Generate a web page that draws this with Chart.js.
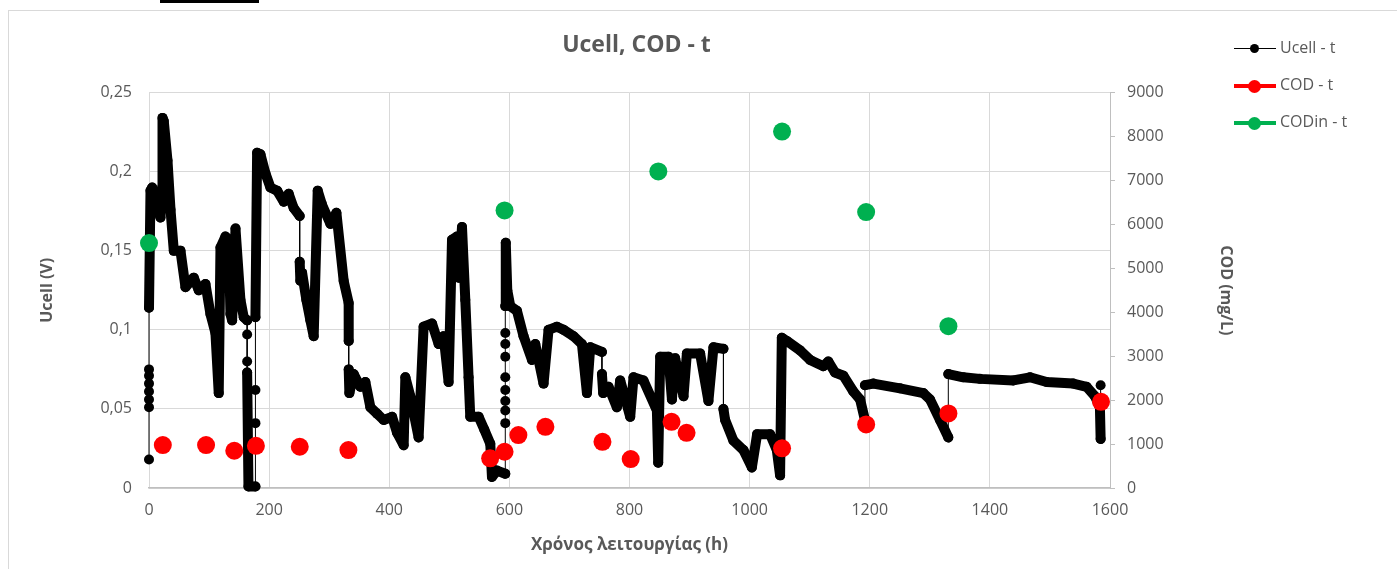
<!DOCTYPE html>
<html>
<head>
<meta charset="utf-8">
<script src="https://cdn.jsdelivr.net/npm/chart.js@4.4.1/dist/chart.umd.min.js"></script>
<style>
  html, body { margin: 0; padding: 0; background: #fff; overflow: hidden; }
  #wrap { position: relative; width: 1397px; height: 569px; }
  #frame { position: absolute; left: 8px; top: 10px; width: 1400px; height: 600px; border: 1px solid #d9d9d9; box-sizing: border-box; }
  #bar { position: absolute; left: 160px; top: 0; width: 99px; height: 3px; background: #000; }
  #chartBox { position: absolute; left: 0; top: 0; width: 1397px; height: 569px; }
  .leg { position: absolute; left: 1234px; height: 20px; font: 16px "Open Sans", sans-serif; color: #595959; }
  .leg .ln { position: absolute; left: 0; width: 42px; }
  .leg .dt { position: absolute; border-radius: 50%; }
  .leg span { position: absolute; left: 46px; top: -2px; white-space: nowrap; }
</style>
</head>
<body>
<div id="wrap">
  <div id="frame"></div>
  <div id="bar"></div>
  <div id="chartBox"><canvas id="chart"></canvas></div>
  <div class="leg" style="top:38px">
    <div class="ln" style="top:10px;height:1px;background:#000"></div>
    <div class="dt" style="left:16px;top:6px;width:9px;height:9px;background:#000"></div>
    <span>Ucell - t</span>
  </div>
  <div class="leg" style="top:75px">
    <div class="ln" style="top:9px;height:4px;background:#ff0000"></div>
    <div class="dt" style="left:14px;top:5px;width:13px;height:13px;background:#ff0000"></div>
    <span>COD - t</span>
  </div>
  <div class="leg" style="top:112px">
    <div class="ln" style="top:9px;height:4px;background:#00b050"></div>
    <div class="dt" style="left:14px;top:5px;width:13px;height:13px;background:#00b050"></div>
    <span>CODin - t</span>
  </div>
</div>
<script>
// Ucell (V) vs operating time (h)
const ucellTime = [
  0, 0, 0, 0, 0, 0, 0, 0, 2.5, 5.3, 12.5, 19.1, 22, 22.5, 24.6, 30.8, 35.8, 41.3, 52.4, 60.7,
  74.5, 82.9, 94, 102.3, 110.6, 116.1, 119, 127.3, 132.8, 135.6, 138.4, 144, 152.2, 157.7, 163.4, 163.4, 163.4, 163.4, 165.6, 177.2,
  177.2, 177.2, 177.2, 180, 185.5, 193.8, 202.2, 213.3, 224.3, 232.6, 240.9, 250.9, 250.9, 252, 254.9, 262, 268.7, 274.2, 280.9, 288.2,
  302, 312, 324.1, 332.4, 332.5, 332.5, 333.6, 340.8, 351.9, 360.2, 368.6, 379.7, 390.7, 404.7, 413, 424, 426.8, 435.1, 448.9, 457.2,
  471.2, 482.2, 490.5, 498.8, 504.5, 512.8, 515.5, 521.1, 526.6, 532.1, 534.9, 548.8, 558.2, 568.2, 571, 579.4, 593.2, 593.2, 593.2, 593.2,
  593.2, 593.2, 593.2, 593.2, 593.2, 593.2, 594, 596.5, 601.5, 612.6, 623.6, 637.6, 643.1, 656.9, 665.2, 679.2, 690.2, 706.8, 720.8, 729.1,
  734.6, 754.1, 754.1, 756.2, 765.1, 779, 784.5, 801.2, 806.7, 823.3, 845.6, 847.8, 851.1, 864.9, 870.6, 876, 889.9, 895.5, 917.6, 931.4,
  939.8, 956.4, 956.4, 959.2, 973, 989.7, 1003.7, 1012.5, 1034.1, 1045.3, 1050.7, 1053.6, 1061.9, 1084, 1100.7, 1122.8, 1131.1, 1142.3, 1156.1, 1172.7,
  1183.9, 1192, 1192, 1206, 1250.4, 1289.2, 1300.3, 1317, 1330.8, 1330.8, 1355.7, 1383.5, 1439, 1466.8, 1494.5, 1538.8, 1561, 1574.9, 1583.2, 1584.4,
  1584.4
];
const ucellValue = [
  0.018, 0.051, 0.056, 0.061, 0.066, 0.071, 0.075, 0.114, 0.188, 0.190, 0.180, 0.171, 0.190, 0.234, 0.232, 0.207, 0.176, 0.150, 0.150, 0.127,
  0.133, 0.125, 0.129, 0.110, 0.098, 0.060, 0.152, 0.159, 0.157, 0.110, 0.106, 0.164, 0.119, 0.108, 0.106, 0.097, 0.080, 0.073, 0.001, 0.001,
  0.041, 0.062, 0.108, 0.212, 0.211, 0.199, 0.190, 0.188, 0.181, 0.186, 0.177, 0.172, 0.143, 0.131, 0.136, 0.119, 0.106, 0.096, 0.188, 0.179,
  0.167, 0.174, 0.131, 0.117, 0.093, 0.075, 0.060, 0.072, 0.064, 0.067, 0.051, 0.047, 0.043, 0.045, 0.035, 0.027, 0.070, 0.058, 0.032, 0.102,
  0.104, 0.091, 0.096, 0.067, 0.157, 0.159, 0.133, 0.165, 0.119, 0.070, 0.045, 0.045, 0.037, 0.028, 0.007, 0.011, 0.009, 0.041, 0.049, 0.055,
  0.062, 0.070, 0.083, 0.091, 0.098, 0.115, 0.155, 0.125, 0.115, 0.112, 0.096, 0.081, 0.091, 0.066, 0.100, 0.102, 0.100, 0.096, 0.091, 0.060,
  0.089, 0.086, 0.072, 0.060, 0.064, 0.051, 0.068, 0.045, 0.070, 0.068, 0.049, 0.016, 0.083, 0.083, 0.056, 0.082, 0.058, 0.085, 0.085, 0.055,
  0.089, 0.088, 0.050, 0.043, 0.030, 0.024, 0.013, 0.034, 0.034, 0.024, 0.008, 0.095, 0.093, 0.087, 0.081, 0.077, 0.080, 0.073, 0.071, 0.061,
  0.056, 0.043, 0.065, 0.066, 0.063, 0.060, 0.056, 0.043, 0.032, 0.072, 0.070, 0.069, 0.068, 0.070, 0.067, 0.066, 0.064, 0.058, 0.051, 0.031,
  0.065
];

// COD (mg/L) samples
const codTime = [23, 95, 142, 178, 251, 332, 568, 592, 615, 660, 755, 802, 870, 895, 1054, 1194, 1331, 1585];
const codValue = [977, 977, 848, 961, 939, 864, 675, 825, 1205, 1393, 1052, 659, 1507, 1257, 902, 1448, 1698, 1961];

// inlet COD (mg/L)
const codinTime = [0, 592, 848, 1054, 1194, 1331];
const codinValue = [5575, 6318, 7205, 8114, 6280, 3682];

const timeTicks = ['0', '200', '400', '600', '800', '1000', '1200', '1400', '1600'];
const ucellTicks = ['0', '0,05', '0,1', '0,15', '0,2', '0,25'];
const codTicks = ['0', '1000', '2000', '3000', '4000', '5000', '6000', '7000', '8000', '9000'];

const pts = (xs, ys) => xs.map((x, i) => ({ x: x, y: ys[i] }));

const grey = '#595959';
Chart.defaults.font.family = '"Open Sans", sans-serif';
Chart.defaults.color = grey;

new Chart(document.getElementById('chart'), {
  type: 'scatter',
  data: {
    datasets: [
      {
        label: 'CODin - t', data: pts(codinTime, codinValue), yAxisID: 'yCod',
        backgroundColor: '#00b050', borderColor: '#00b050', pointRadius: 9, pointBorderWidth: 0,
        order: 1, clip: false
      },
      {
        label: 'COD - t', data: pts(codTime, codValue), yAxisID: 'yCod',
        backgroundColor: '#ff0000', borderColor: '#ff0000', pointRadius: 9, pointBorderWidth: 0,
        order: 2, clip: false
      },
      {
        label: 'Ucell - t', data: pts(ucellTime, ucellValue), yAxisID: 'yU',
        showLine: true, borderColor: '#000', backgroundColor: '#000',
        borderWidth: 10, borderJoinStyle: 'round', borderCapStyle: 'round',
        pointRadius: 5, pointBorderWidth: 0, pointBackgroundColor: '#000',
        // jumps logged at the same instant are only a thin connector
        segment: {
          borderWidth: ctx => ucellTime[ctx.p0DataIndex] === ucellTime[ctx.p1DataIndex] ? 1 : 10
        },
        order: 3, clip: false
      }
    ]
  },
  options: {
    responsive: true,
    maintainAspectRatio: false,
    animation: false,
    layout: { padding: { left: 38, right: 162, top: 0, bottom: 14 } },
    plugins: {
      legend: { display: false },
      tooltip: { enabled: false },
      title: {
        display: true, text: 'Ucell, COD - t', color: grey,
        font: { size: 23, weight: 'bold' }, padding: { top: 32, bottom: 33 }
      }
    },
    scales: {
      x: {
        type: 'linear', min: 0, max: 1600,
        ticks: { stepSize: 200, padding: 13, font: { size: 16 }, color: grey,
          callback: (v, i) => timeTicks[i] },
        grid: { color: '#d9d9d9', drawTicks: false },
        border: { display: true, color: '#bfbfbf', width: 1.5 },
        title: { display: true, text: 'Χρόνος λειτουργίας (h)', color: grey,
          font: { size: 17, weight: 'bold' }, padding: 0 },
        afterFit: s => { s.height = 67; }
      },
      yU: {
        type: 'linear', position: 'left', min: 0, max: 0.25,
        ticks: { stepSize: 0.05, padding: 17, font: { size: 16 }, color: grey,
          callback: (v, i) => ucellTicks[i] },
        grid: { color: '#d9d9d9', drawTicks: false },
        border: { display: false },
        title: { display: true, text: 'Ucell (V)', color: grey,
          font: { size: 16, weight: 'bold' }, padding: 0 },
        afterFit: s => { s.width = 111; }
      },
      yCod: {
        type: 'linear', position: 'right', min: 0, max: 9000,
        ticks: { stepSize: 1000, padding: 12, font: { size: 16 }, color: grey,
          callback: (v, i) => codTicks[i] },
        grid: { drawOnChartArea: false, drawTicks: true, tickLength: 5, color: '#bfbfbf' },
        border: { display: true, color: '#bfbfbf' },
        title: { display: true, text: 'COD (mg/L)', color: grey,
          font: { size: 16, weight: 'bold' }, padding: 0 },
        afterFit: s => { s.width = 125; }
      }
    }
  }
});
</script>
</body>
</html>
